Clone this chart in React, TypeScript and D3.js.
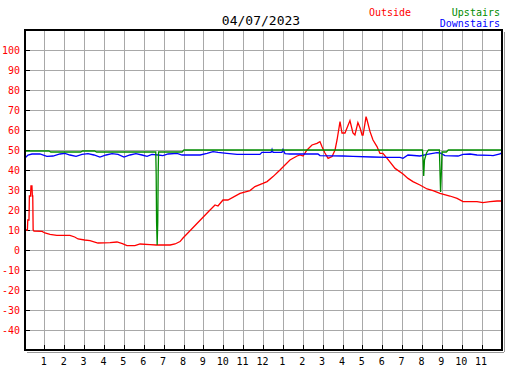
import React from 'react';
import * as d3 from 'd3';

const title = '04/07/2023';
const hourLabels = ['1', '2', '3', '4', '5', '6', '7', '8', '9', '10', '11', '12', '1', '2', '3', '4', '5', '6', '7', '8', '9', '10', '11'];
const yTicks = [-40, -30, -20, -10, 0, 10, 20, 30, 40, 50, 60, 70, 80, 90, 100];

// [hour of day, temperature]
const outside: [number, number][] = [
  [0, 10], [0.12, 10], [0.14, 15], [0.2, 15], [0.22, 27], [0.28, 27], [0.3, 32], [0.35, 32], [0.37, 27], [0.39, 27], [0.41, 10],
  [0.45, 9.5], [0.86, 9.3], [1.0, 8.5], [1.26, 7.8], [1.6, 7.3], [2.26, 7.3], [2.5, 6.5], [2.67, 5.5], [3.0, 5.0], [3.27, 4.7],
  [3.67, 3.5], [4.28, 3.7], [4.63, 4.0], [4.9, 3.2], [5.13, 2.2], [5.53, 2.2], [5.79, 3.0], [6.29, 2.7], [6.6, 2.5], [7.3, 2.5],
  [7.55, 3.0], [7.8, 4.2], [7.95, 6], [9.31, 20], [9.56, 22.5], [9.71, 22], [9.96, 25], [10.21, 25], [10.82, 28.3], [11.32, 29.7],
  [11.57, 31.7], [11.97, 33.3], [12.18, 34.2], [12.48, 36.7], [12.83, 40], [13.33, 45], [13.69, 47], [13.84, 47.5], [13.99, 47],
  [14.19, 50], [14.44, 52.5], [14.69, 53.3], [14.84, 54.2], [14.94, 51.7], [15.09, 48.5], [15.25, 45.8], [15.45, 46.7], [15.6, 50],
  [15.7, 55], [15.85, 64.2], [15.95, 58.5], [16.1, 58.5], [16.35, 64.7], [16.5, 58.5], [16.6, 57.5], [16.75, 63.7], [16.86, 61],
  [16.96, 57.5], [17.01, 57.5], [17.16, 66.7], [17.21, 65], [17.36, 59.2], [17.51, 55], [17.71, 51.7], [17.86, 48.3], [18.01, 48.3],
  [18.26, 45.3], [18.62, 40.8], [19.02, 38], [19.27, 35.8], [19.52, 34.2], [19.87, 32.5], [20.23, 30.5], [20.53, 29.7], [20.88, 28.3],
  [21.38, 27], [21.74, 25.8], [22.04, 24.2], [22.74, 24.2], [23.04, 23.7], [23.4, 24.2], [23.75, 24.5], [24, 24.5],
];

const upstairs: [number, number][] = [
  [0, 49.5], [1.2, 49.5], [1.3, 49], [2.8, 49], [2.9, 49.5], [3.5, 49.5], [3.6, 49], [6.58, 49], [6.6, 38], [6.62, 14], [6.65, 2.5],
  [6.68, 14], [6.7, 38], [6.72, 49], [7.9, 49], [8.0, 50], [20.0, 50], [20.03, 45], [20.06, 37], [20.1, 45], [20.2, 48.5], [20.3, 50],
  [20.85, 50], [20.88, 39], [20.91, 29], [20.95, 39], [20.98, 49], [21.2, 49], [21.3, 50], [24, 50],
];

const downstairs: [number, number][] = [
  [0, 46], [0.15, 47.5], [0.35, 48], [0.75, 48], [1.1, 46.8], [1.41, 47], [1.76, 48], [2.01, 48.3], [2.26, 47.5], [2.57, 46.8],
  [2.87, 47.8], [3.17, 48.2], [3.47, 47.5], [3.77, 46.5], [4.08, 47.5], [4.38, 48.2], [4.68, 47.8], [4.98, 46.5], [5.28, 47.5],
  [5.58, 48.2], [5.89, 47.5], [6.14, 46.8], [6.39, 47.8], [6.69, 47.5], [6.94, 47.2], [7.2, 48], [7.65, 48.3], [7.9, 47.5],
  [8.81, 47.5], [9.16, 48.3], [9.46, 49.2], [9.71, 48.8], [10.16, 48.3], [10.67, 47.8], [11.82, 47.8], [11.92, 48.8], [12.38, 48.8],
  [12.43, 50.3], [12.48, 48.8], [12.93, 48.8], [12.98, 50.3], [13.08, 48.2], [13.33, 48], [14.74, 48], [14.84, 47.2], [16.0, 47],
  [16.5, 46.8], [17.46, 46.5], [18.21, 46.3], [18.87, 46.3], [19.02, 45.8], [19.27, 47.5], [19.87, 47], [20.23, 47.8], [20.73, 48.7],
  [20.88, 48.5], [21.13, 47.2], [21.79, 47], [22.04, 47.8], [22.39, 48], [22.74, 47.5], [23.4, 47.3], [23.55, 47.2], [23.9, 48],
  [24, 48.7],
];

const W = 527;
const H = 370;
const left = 25;
const right = 502;
const top = 30;
const bottom = 350;
const font = '"DejaVu Sans Mono", monospace';

export default function App() {
  const x = d3.scaleLinear().domain([0, 24]).range([left, right]);
  const y = d3.scaleLinear().domain([-50, 110]).range([bottom, top]);
  const line = d3.line<[number, number]>().x(d => x(d[0])).y(d => y(d[1]));

  return (
    <svg width={W} height={H} style={{ position: 'absolute', left: 0, top: 0, background: '#fff' }}>
      <text x={261} y={25} textAnchor="middle" fontFamily={font} fontSize={13} fill="#000">{title}</text>
      <text x={369} y={15.5} fontFamily={font} fontSize={10} fill="#ff0000">Outside</text>
      <text x={500} y={15.5} textAnchor="end" fontFamily={font} fontSize={10} fill="#008c00">Upstairs</text>
      <text x={500} y={26.5} textAnchor="end" fontFamily={font} fontSize={10} fill="#0000ff">Downstairs</text>

      {/* grid */}
      <g stroke="#a8a8a8" strokeWidth={1} shapeRendering="crispEdges">
        {hourLabels.map((_, i) => (
          <line key={'v' + i} x1={x(i + 1)} x2={x(i + 1)} y1={top} y2={bottom} />
        ))}
        {yTicks.concat([110]).map(t => (
          <line key={'h' + t} x1={left} x2={right} y1={y(t)} y2={y(t)} />
        ))}
      </g>
      {/* inside ticks */}
      <g stroke="#000" strokeWidth={1} shapeRendering="crispEdges">
        {yTicks.map(t => (
          <line key={'yt' + t} x1={left} x2={left + 5} y1={y(t)} y2={y(t)} />
        ))}
        {hourLabels.map((_, i) => (
          <line key={'xt' + i} x1={x(i + 1)} x2={x(i + 1)} y1={bottom - 5} y2={bottom} />
        ))}
      </g>

      <path d={line(outside) ?? ''} fill="none" stroke="#ff0000" strokeWidth={1.3} />
      <path d={line(downstairs) ?? ''} fill="none" stroke="#0000ff" strokeWidth={1.3} />
      <path d={line(upstairs) ?? ''} fill="none" stroke="#008c00" strokeWidth={1.3} />

      {/* frame with shadow */}
      <g shapeRendering="crispEdges">
        <line x1={right + 2} x2={right + 2} y1={top + 2} y2={bottom + 2} stroke="#999" strokeWidth={1} />
        <line x1={left + 2} x2={right + 2} y1={bottom + 2} y2={bottom + 2} stroke="#999" strokeWidth={1} />
        <rect x={left} y={top} width={right - left} height={bottom - top} fill="none" stroke="#000" strokeWidth={1.5} />
        <line x1={right + 0.5} x2={right + 0.5} y1={top} y2={bottom + 1} stroke="#000" strokeWidth={1} />
        <line x1={left} x2={right + 1} y1={bottom + 0.5} y2={bottom + 0.5} stroke="#000" strokeWidth={1} />
      </g>

      {yTicks.map(t => (
        <text key={'yl' + t} x={20} y={y(t) + 4} textAnchor="end" fontFamily={font} fontSize={10} fill="#ff0000">{t}</text>
      ))}
      {hourLabels.map((l, i) => (
        <text key={'xl' + i} x={x(i + 1) - 1} y={365} textAnchor="middle" fontFamily={font} fontSize={10} fill="#000">{l}</text>
      ))}
    </svg>
  );
}
